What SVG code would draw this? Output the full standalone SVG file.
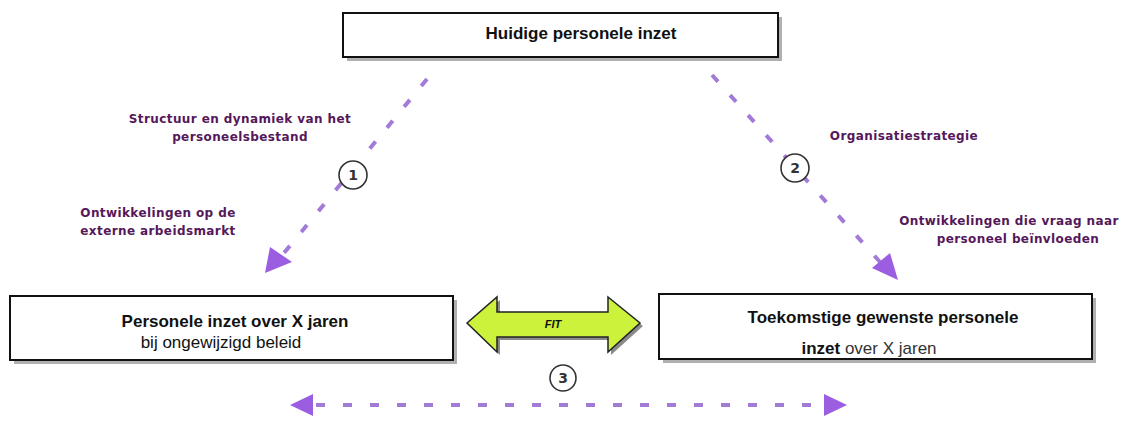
<svg xmlns="http://www.w3.org/2000/svg" width="1123" height="421" viewBox="0 0 1123 421">
<defs>
<style>
.box{fill:#fff;stroke:#111;stroke-width:2}
.shadow{fill:#b0b0b0}
.t{font-family:"Liberation Sans",Arial,sans-serif;fill:#111}
.b{font-weight:bold}
.lbl{font-family:"DejaVu Sans",Verdana,sans-serif;font-weight:bold;font-size:12px;letter-spacing:0.4px;fill:#55185a;text-anchor:middle}
.dash{stroke:#a27ad8;stroke-width:4;stroke-dasharray:9 18;fill:none}
.head{fill:#9b5ee0}
.circ{fill:#fff;stroke:#333;stroke-width:1.6}
.num{font-family:"DejaVu Sans",Verdana,sans-serif;font-weight:bold;font-size:14px;fill:#333;text-anchor:middle}
</style>
</defs>
<g id="connectors">
<line class="dash" x1="427" y1="79" x2="284" y2="253"/>
<polygon class="head" points="270,247 292,262 265,273"/>
<line class="dash" x1="712" y1="75" x2="880" y2="262"/>
<polygon class="head" points="872,268 890,253 898,280"/>
<line class="dash" x1="316" y1="405" x2="822" y2="405"/>
<polygon class="head" points="290,405 313,394 313,416"/>
<polygon class="head" points="847,405 824,394 824,416"/>
</g>
<g id="node-top">
<rect class="shadow" x="347" y="17" width="435" height="44"/>
<rect class="box" x="343" y="13" width="435" height="44"/>
<text class="t b" x="581" y="39" font-size="17" text-anchor="middle">Huidige personele inzet</text>
</g>
<g id="node-left">
<rect class="shadow" x="14" y="300" width="443" height="64"/>
<rect class="box" x="10" y="296" width="443" height="64"/>
<text class="t b" x="235" y="327" font-size="17" text-anchor="middle">Personele inzet over X jaren</text>
<text class="t" x="221" y="348" font-size="17" text-anchor="middle" fill="#333">bij ongewijzigd beleid</text>
</g>
<g id="node-right">
<rect class="shadow" x="663" y="298" width="433" height="65"/>
<rect class="box" x="659" y="294" width="433" height="65"/>
<text class="t b" x="883" y="323" font-size="17" text-anchor="middle">Toekomstige gewenste personele</text>
<text class="t" x="869" y="354" font-size="17" text-anchor="middle"><tspan font-weight="bold">inzet</tspan><tspan fill="#333"> over X jaren</tspan></text>
</g>
<g id="node-fit">
<polygon fill="#8a8a8a" points="470,326 500,300 500,315 611,315 611,300 643,326 611,355 611,340 500,340 500,355"/>
<polygon fill="#ccf23c" stroke="#222" stroke-width="1.5" points="467,323 497,297 497,312 608,312 608,297 640,323 608,352 608,337 497,337 497,352"/>
<text class="t b" x="553" y="328" font-size="11" font-style="italic" text-anchor="middle">FIT</text>
</g>
<g id="labels">
<text class="lbl" x="240" y="123">Structuur en dynamiek van het</text>
<text class="lbl" x="240" y="141">personeelsbestand</text>
<text class="lbl" x="158" y="217">Ontwikkelingen op de</text>
<text class="lbl" x="158" y="235">externe arbeidsmarkt</text>
<text class="lbl" x="904" y="140">Organisatiestrategie</text>
<text class="lbl" x="1009" y="225">Ontwikkelingen die vraag naar</text>
<text class="lbl" x="1018" y="243">personeel beïnvloeden</text>
</g>
<g id="badge-1">
<circle class="circ" cx="353" cy="175" r="14"/>
<text class="num" x="353" y="180">1</text>
</g>
<g id="badge-2">
<circle class="circ" cx="795" cy="168" r="14"/>
<text class="num" x="795" y="173">2</text>
</g>
<g id="badge-3">
<circle class="circ" cx="563" cy="378" r="13"/>
<text class="num" x="563" y="383" fill="#4a2050">3</text>
</g>
</svg>
